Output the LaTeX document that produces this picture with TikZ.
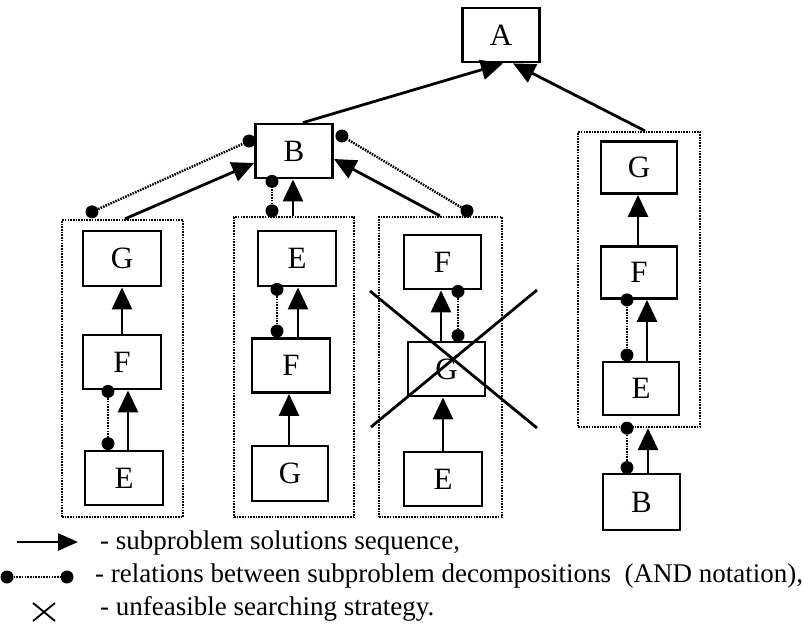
\documentclass[tikz,border=0pt]{standalone}
\usepackage{fontspec}
\setmainfont{Liberation Serif}
\usetikzlibrary{arrows.meta,calc}
\begin{document}
\begin{tikzpicture}[x=1pt,y=-1pt,
  box/.style={draw, line width=2.8pt, minimum width=77pt, minimum height=54pt, inner sep=0pt, font=\fontsize{31}{31}\selectfont},
  grp/.style={draw, line width=2.3pt, dash pattern=on 1.6pt off 1.1pt, inner sep=0pt},
  sol/.style={line width=2.8pt, -{Triangle[length=22pt,width=20pt]}},
  rel/.style={line width=2.4pt, dash pattern=on 1.6pt off 1.1pt},
  dot/.style={circle, fill, inner sep=0pt, minimum size=13pt},
  lab/.style={anchor=base west, inner sep=0pt, font=\fontsize{27}{27}\selectfont},
  cross/.style={line width=2.8pt}
]
\useasboundingbox (0,0) rectangle (804,626);

% top
\node[box] (A) at (501,35) {A};
\node[box] (B) at (294,151) {B};

% group 1
\node[grp, minimum width=121pt, minimum height=297pt] (C1) at (122.5,368.5) {};
\node[box, minimum width=78pt, minimum height=55pt] (G1) at (122,258.5) {G};
\node[box, minimum width=78pt] (F1) at (122,362) {F};
\node[box, minimum width=78pt] (E1) at (124,478) {E};
\draw[sol] (F1.north) -- (G1.south);
\draw[sol] ($(E1.north)+(4,0)$) -- ($(F1.south)+(6,0)$);
\node[dot] (d1a) at ($(F1.south)+(-14,1)$) {};
\node[dot] (d1b) at ($(E1.north)+(-16,-6)$) {};
\draw[rel] (d1a) -- (d1b);

% group 2
\node[grp, minimum width=120pt, minimum height=300pt] (C2) at (294,367) {};
\node[box, minimum width=78pt, minimum height=55pt] (E2) at (297,258.5) {E};
\node[box, minimum width=78pt] (F2) at (291,365.5) {F};
\node[box, minimum width=76pt, minimum height=55pt] (G2) at (290,473.5) {G};
\draw[sol] ($(F2.north)+(7,0)$) -- ($(E2.south)+(1,0)$);
\node[dot] (d2a) at ($(E2.south)+(-20,2)$) {};
\node[dot] (d2b) at ($(F2.north)+(-14,-6)$) {};
\draw[rel] (d2a) -- (d2b);
\draw[sol] ($(G2.north)+(-1,0)$) -- ($(F2.south)+(-2,0)$);

% group 3
\node[grp, minimum width=123pt, minimum height=300pt] (C3) at (440.5,367) {};
\node[box] (F3) at (442.5,262) {F};
\node[box] (G3) at (446.5,369) {G};
\node[box, minimum width=78pt] (E3) at (443,479) {E};
\draw[sol] ($(G3.north)+(-5.5,0)$) -- ($(F3.south)+(-1.5,0)$);
\node[dot] (d3a) at ($(F3.south)+(15.5,1)$) {};
\node[dot] (d3b) at ($(G3.north)+(11.5,-5)$) {};
\draw[rel] (d3a) -- (d3b);
\draw[sol] (E3.north) -- ($(G3.south)+(-3.5,0)$);
\draw[cross] (370,291) -- (537,428);
\draw[cross] (537,290) -- (371,427);

% group 4
\node[grp, minimum width=122pt, minimum height=295pt] (C4) at (639,279.5) {};
\node[box, minimum width=76pt, minimum height=52pt] (G4) at (639,167.5) {G};
\node[box, minimum width=76pt, minimum height=52pt] (F4) at (639,272.5) {F};
\node[box, minimum width=76pt, minimum height=53pt] (E4) at (641,388.5) {E};
\node[box, minimum width=77pt, minimum height=56pt] (B4) at (641.5,502) {B};
\draw[sol] ($(F4.north)+(-1,0)$) -- ($(G4.south)+(-1,0)$);
\draw[sol] ($(E4.north)+(6,0)$) -- ($(F4.south)+(8,0)$);
\node[dot] (d4a) at ($(F4.south)+(-12,0)$) {};
\node[dot] (d4b) at ($(E4.north)+(-14,-5.5)$) {};
\draw[rel] (d4a) -- (d4b);
\draw[sol] ($(B4.north)+(6.5,0)$) -- ($(C4.south)+(9,0)$);
\node[dot] (d5a) at ($(C4.south)+(-12,0)$) {};
\node[dot] (d5b) at ($(B4.north)+(-14.5,-5)$) {};
\draw[rel] (d5a) -- (d5b);

% links to B
\draw[sol] ($(C1.north)+(2.5,0)$) -- ($(B.west)+(0,12)$);
\node[dot] (e1a) at ($(C1.north)+(-30.5,-7)$) {};
\node[dot] (e1b) at ($(B.west)+(-5,-10)$) {};
\draw[rel] (e1a) -- (e1b);

\draw[sol] ($(C2.north)+(-1,0)$) -- ($(B.south)+(-1,0)$);
\node[dot] (e2a) at ($(C2.north)+(-22,-5)$) {};
\node[dot] (e2b) at ($(B.south)+(-22,2)$) {};
\draw[rel] (e2a) -- (e2b);

\draw[sol] ($(C3.north)+(-0.5,0)$) -- ($(B.east)+(0,8)$);
\node[dot] (e3a) at ($(C3.north)+(26.5,-5)$) {};
\node[dot] (e3b) at ($(B.east)+(8,-15)$) {};
\draw[rel] (e3a) -- (e3b);

% links to A
\draw[sol] ($(B.north)+(9,0)$) -- ($(A.south)+(2,0)$);
\draw[sol] ($(C4.north)+(6,0)$) -- ($(A.south)+(12,0)$);

% legend
\coordinate (la) at (17,542);
\coordinate (lb) at (78,542);
\draw[line width=2.6pt, -{Triangle[length=20pt,width=17pt]}] (la) -- (lb);
\node[dot] (lda) at (7,577) {};
\node[dot] (ldb) at (67,577) {};
\draw[rel] (lda) -- (ldb);
\draw[line width=1.8pt] (33,603) -- (55,621);
\draw[line width=1.8pt] (55,603) -- (33,621);
\node[lab] (t1) at (100,549) {- subproblem solutions sequence,};
\node[lab] (t2) at (95,582) {- relations between subproblem decompositions\ \ (AND notation),};
\node[lab] (t3) at (100,615) {- unfeasible searching strategy.};
\end{tikzpicture}
\end{document}
